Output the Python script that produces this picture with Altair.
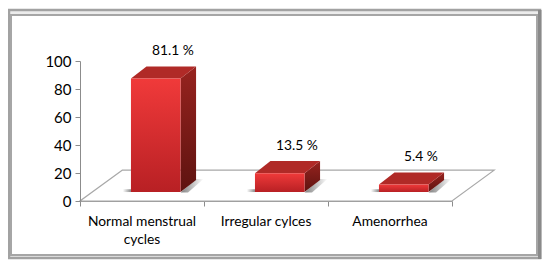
import altair as alt
import pandas as pd

categories = ["Normal menstrual cycles", "Irregular cylces", "Amenorrhea"]
label_lines = [["Normal menstrual", "cycles"], ["Irregular cylces"], ["Amenorrhea"]]
values = [81.1, 13.5, 5.4]
value_labels = ["81.1 %", "13.5 %", "5.4 %"]
y_ticks = [0, 20, 40, 60, 80, 100]
x_ticks = [0, 1, 2, 3]

FONT = "Lato"
BAR_LEFT, BAR_W = 0.411, 0.40
DX, DY = 0.125, 8.6      # bar depth in data units
BASE = 6.4               # lift of the bar's foot above the front floor edge
FLOOR_DX, FLOOR_DY = 0.34, 22.0

X = alt.Scale(domain=[0, 3], nice=False, zero=False)
Y = alt.Scale(domain=[0, 100], nice=False)
X_AXIS = alt.Axis(
    values=x_ticks, title=None, grid=False, labels=False, domainColor="#a0a0a0",
    tickColor="#8c8c8c", tickSize=5, zindex=1)
Y_AXIS = alt.Axis(
    values=y_ticks, title=None, grid=False, domainColor="#8c8c8c", tickColor="#8c8c8c",
    tickSize=5, labelFont=FONT, labelFontSize=15, labelColor="#000000", labelPadding=4,
    labelFlush=False, zindex=1)
x_q = lambda f="x": alt.X(f"{f}:Q", scale=X, axis=X_AXIS)
y_q = lambda f="y": alt.Y(f"{f}:Q", scale=Y, axis=Y_AXIS)

front, side, top, shadow_r, shadow_l = [], [], [], [], []
for i, v in enumerate(values):
    x0 = i + BAR_LEFT
    x1 = x0 + BAR_W
    front.append(dict(s=i, x=x0, x2=x1, y=BASE + v, y2=BASE))
    side += [dict(s=i, x=x1, y=BASE + v, y2=BASE),
             dict(s=i, x=x1 + DX, y=BASE + v + DY, y2=BASE + DY)]
    top += [dict(s=i, y=BASE + v, x=x0, x2=x1),
            dict(s=i, y=BASE + v + DY, x=x0 + DX, x2=x1 + DX)]
    shadow_r += [dict(s=i, y=BASE - 0.3, x=x1, x2=x1 + 0.06),
                 dict(s=i, y=BASE + DY + 0.8, x=x1 + DX, x2=x1 + DX + 0.06)]
    shadow_l.append(dict(s=i, x=x0 - 0.065, x2=x0, y=BASE + 2.0, y2=BASE))

def grad(stops, x2=0, y2=1):
    return alt.Gradient(gradient="linear", x1=0, y1=0, x2=x2, y2=y2,
                        stops=[alt.GradientStop(offset=o, color=c) for o, c in stops])

one = pd.DataFrame({"a": [0]})
# picture frame (decoration around the plot)
frame_outer = alt.Chart(one).mark_rect(
    fill="#ececec", stroke="#a2a2a2", strokeWidth=2.5, clip=False
).encode(x=alt.value(-71), x2=alt.value(460), y=alt.value(-51), y2=alt.value(197))
frame_right = alt.Chart(one).mark_rect(
    fill="#8a8a8a", clip=False
).encode(x=alt.value(458), x2=alt.value(461.5), y=alt.value(-51), y2=alt.value(198))
frame_inner = alt.Chart(one).mark_rect(
    fill="white", stroke="#a6a6a6", strokeWidth=2, clip=False
).encode(x=alt.value(-69), x2=alt.value(457), y=alt.value(-46), y2=alt.value(194))

# floor
floor_df = pd.DataFrame([
    dict(y=0, x=0, x2=3),
    dict(y=FLOOR_DY, x=FLOOR_DX, x2=3 + FLOOR_DX),
])
floor = alt.Chart(floor_df).mark_area(
    orient="horizontal", fill="white", stroke="#a8a8a8", strokeWidth=1.2, clip=False
).encode(x=x_q(), x2="x2:Q", y=y_q())

sh_r = alt.Chart(pd.DataFrame(shadow_r)).mark_area(
    orient="horizontal", clip=False,
    fill=grad([(0, "#808080"), (1, "#ffffff")], x2=1, y2=0),
).encode(x=x_q(), x2="x2:Q", y=y_q(), detail="s:N")
sh_l = alt.Chart(pd.DataFrame(shadow_l)).mark_rect(
    fill=grad([(0, "#ffffff"), (1, "#8a8a8a")], x2=1, y2=0)
).encode(x=x_q(), x2="x2:Q", y=y_q(), y2="y2:Q")

side_m = alt.Chart(pd.DataFrame(side)).mark_area(
    fill=grad([(0, "#97231f"), (1, "#5e1310")]), clip=False
).encode(x=x_q(), y=y_q(), y2="y2:Q", detail="s:N")
top_m = alt.Chart(pd.DataFrame(top)).mark_area(
    orient="horizontal", fill="#b02a27", clip=False
).encode(x=x_q(), x2="x2:Q", y=y_q(), detail="s:N")
front_m = alt.Chart(pd.DataFrame(front)).mark_rect(
    fill=grad([(0, "#f03a3a"), (1, "#b82024")])
).encode(x=x_q(), x2="x2:Q", y=y_q(), y2="y2:Q")

# texts
val_df = pd.DataFrame({"x": [i + 0.75 for i in range(3)],
                       "y": [BASE + v + DY for v in values], "t": value_labels})
val_text = alt.Chart(val_df).mark_text(
    font=FONT, fontSize=13.8, color="#000000", dy=-15, baseline="middle", clip=False
).encode(x=x_q(), y=y_q(), text="t:N")

cat_df = pd.DataFrame({"x": [i + 0.5 for i in range(3)], "y": [0] * 3, "t": label_lines})
cat_text = alt.Chart(cat_df).mark_text(
    font=FONT, fontSize=13.8, color="#000000", dy=20.5, baseline="middle",
    lineHeight=18, clip=False
).encode(x=x_q(), y=y_q(), text="t:N")

chart = alt.layer(
    frame_outer, frame_right, frame_inner, floor,
    sh_l, sh_r, side_m, top_m, front_m, val_text, cat_text
).properties(
    width=372, height=140,
    autosize=alt.AutoSizeParams(type="none"),
    padding={"left": 72, "top": 53, "right": 90, "bottom": 59},
    background="white",
).configure_view(stroke=None)

chart.save("out.html", embed_options={"renderer": "svg", "actions": False})
